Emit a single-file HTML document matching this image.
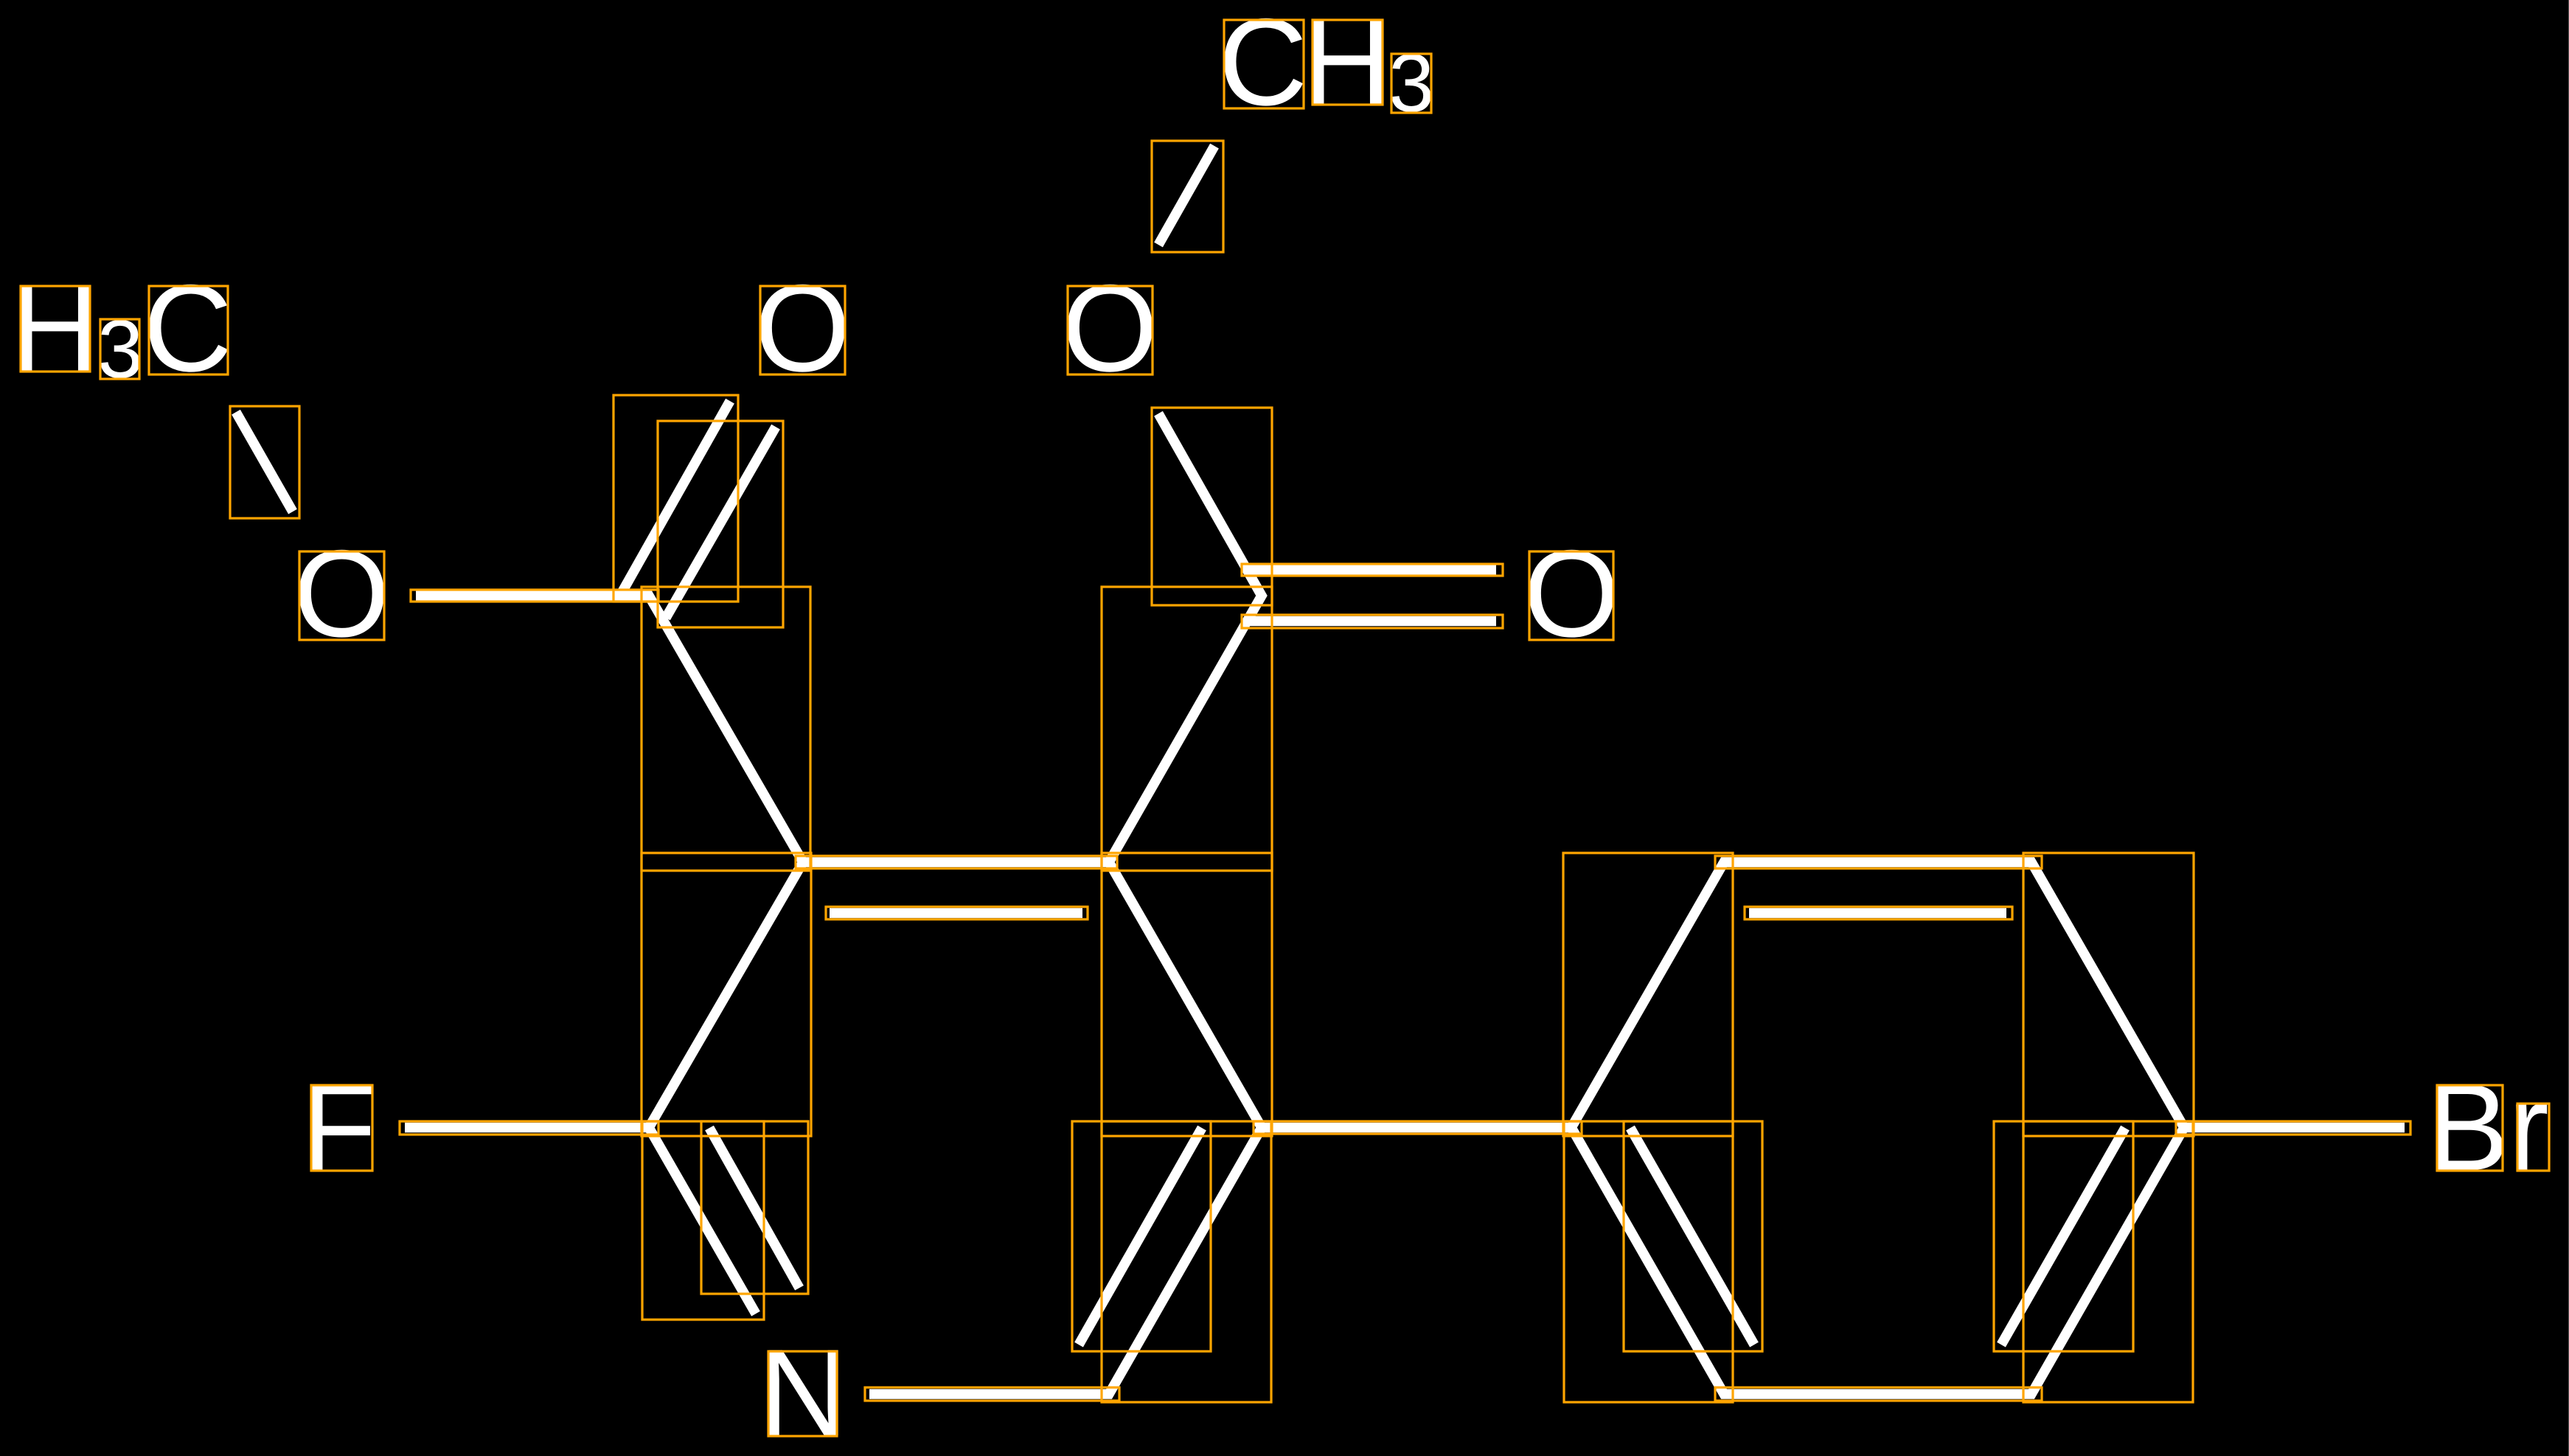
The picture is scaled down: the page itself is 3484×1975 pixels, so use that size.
<!DOCTYPE html>
<html lang="en"><head><meta charset="utf-8"><title>Molecule</title>
<style>
html,body{margin:0;padding:0;background:#000;width:3484px;height:1975px;overflow:hidden}
svg{display:block}
text{font-family:"Liberation Sans",sans-serif;fill:#fff;text-rendering:geometricPrecision}
.b{font-size:168px}.s{font-size:112px}
.l{fill:none;stroke:#fff;stroke-width:13.5;stroke-linejoin:miter;stroke-miterlimit:4}
.r{fill:none;stroke:#ffa500;stroke-width:3.2}
</style></head><body>
<svg width="3484" height="1975" viewBox="0 0 3484 1975" xmlns="http://www.w3.org/2000/svg">
<rect width="3484" height="1975" fill="#000"/>
<text class="b" x="14" y="503">H</text><text class="s" x="132" y="512">3</text><text class="b" x="194" y="503">C</text>
<text class="b" x="1023" y="503">O</text>
<text class="b" x="1440" y="503">O</text>
<text class="b" x="398" y="863">O</text>
<text class="b" x="2066" y="863">O</text>
<text class="b" x="1652" y="142">C</text><text class="b" x="1766" y="142">H</text><text class="s" x="1883" y="151">3</text>
<text class="b" x="408" y="1587">F</text>
<text class="b" x="1029" y="1947">N</text>
<text class="b" x="3291" y="1587">B</text><text class="b" x="3401" y="1587">r</text>

<polyline class="l" points="320,559 397,694"/>
<polyline class="l" points="1647,198 1571,332"/>
<polyline class="l" points="564,808 880,808 1089,1169.5 1504,1169.5 1711,808 1571,561"/>
<polyline class="l" points="1089,1169.5 880,1529.5 1025,1782"/>
<polyline class="l" points="1504,1169.5 1711,1529.5 1504,1891 1179,1891"/>
<polyline class="l" points="549,1529.5 880,1529.5"/>
<polyline class="l" points="1711,1529.5 2131,1529.5"/>
<polygon class="l" points="2131,1529.5 2338,1169.5 2755,1169.5 2962,1529.5 2755,1891 2338,1891"/>
<polyline class="l" points="2962,1529.5 3261,1529.5"/>
<polyline class="l" points="990,544 842,806"/>
<polyline class="l" points="1052,579 903,838"/>
<polyline class="l" points="1125,1238.5 1468,1238.5"/>
<polyline class="l" points="2372,1238.5 2721,1238.5"/>
<polyline class="l" points="1688,773 2029,773"/>
<polyline class="l" points="1688,842.5 2029,842.5"/>
<polyline class="l" points="962,1530 1084,1747"/>
<polyline class="l" points="1630,1530 1463,1824"/>
<polyline class="l" points="2211,1530 2379,1824"/>
<polyline class="l" points="2882,1530 2714,1824"/>

<g class="r">
<rect x="28" y="388" width="94" height="116"/><rect x="136" y="433" width="53" height="81"/><rect x="202" y="388" width="107" height="120"/>
<rect x="1031" y="388" width="115" height="120"/><rect x="1448" y="388" width="115" height="120"/>
<rect x="406" y="748" width="115" height="120"/><rect x="2074" y="748" width="114" height="120"/>
<rect x="1660" y="27" width="108" height="120"/><rect x="1780" y="27" width="95" height="115"/><rect x="1887" y="73" width="54" height="80"/>
<rect x="422" y="1472" width="83" height="116"/><rect x="1042" y="1833" width="93" height="115"/>
<rect x="3305" y="1472" width="89" height="116"/><rect x="3414" y="1497" width="43" height="91"/>
<rect x="312" y="551" width="94" height="152"/><rect x="1562" y="191" width="97" height="151"/><rect x="1562" y="553" width="163" height="268"/>
<rect x="557" y="800" width="336" height="16"/><rect x="832" y="536" width="169" height="280"/><rect x="892" y="571" width="170" height="280"/>
<rect x="870" y="796" width="229" height="385"/><rect x="870" y="1157" width="230" height="384"/>
<rect x="1494" y="796" width="231" height="385"/><rect x="1494" y="1157" width="231" height="384"/>
<rect x="1079" y="1161" width="436" height="17"/><rect x="1120" y="1230" width="355" height="17"/>
<rect x="1684" y="765" width="354" height="16"/><rect x="1684" y="834" width="354" height="18"/>
<rect x="542" y="1521" width="351" height="18"/><rect x="871" y="1521" width="165" height="269"/><rect x="951" y="1521" width="145" height="234"/>
<rect x="1173" y="1882" width="345" height="18"/><rect x="1454" y="1521" width="188" height="312"/><rect x="1494" y="1521" width="230" height="381"/>
<rect x="1700" y="1521" width="445" height="17"/>
<rect x="2120" y="1157" width="230" height="384"/><rect x="2326" y="1161" width="443" height="17"/><rect x="2366" y="1230" width="363" height="17"/>
<rect x="2744" y="1157" width="231" height="384"/><rect x="2121" y="1521" width="229" height="381"/><rect x="2744" y="1521" width="230" height="381"/>
<rect x="2202" y="1521" width="188" height="312"/><rect x="2704" y="1521" width="189" height="312"/>
<rect x="2326" y="1882" width="443" height="18"/><rect x="2951" y="1521" width="318" height="18"/>
</g>
<rect x="3483" y="0" width="1" height="1975" fill="#555"/>
</svg>
</body></html>
